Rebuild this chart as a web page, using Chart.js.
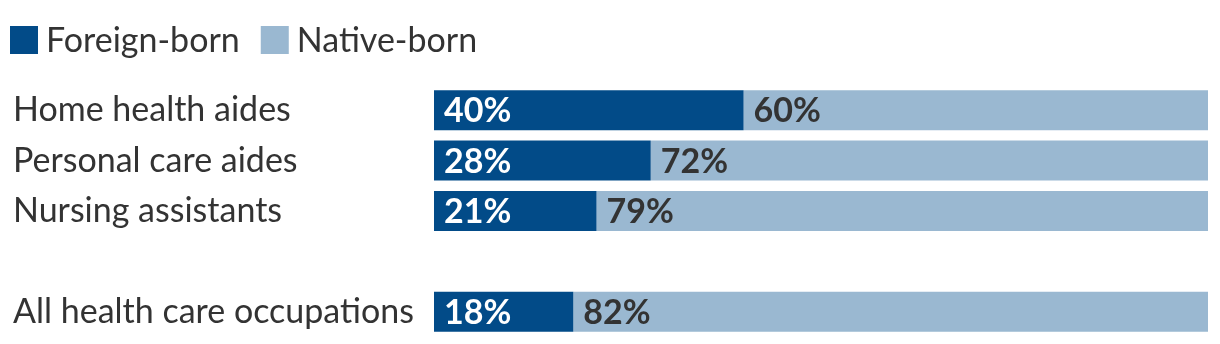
<!DOCTYPE html>
<html>
<head>
<meta charset="utf-8">
<script src="https://cdn.jsdelivr.net/npm/chart.js@4"></script>
<style>
html,body{margin:0;padding:0;background:#fff;}
#wrap{width:1220px;height:344px;position:relative;}
</style>
</head>
<body>
<div id="wrap"><canvas id="c" width="1220" height="344"></canvas></div>
<script>
const categories = ['Home health aides', 'Personal care aides', 'Nursing assistants', '', 'All health care occupations'];
const foreignBorn = [40, 28, 21, null, 18];
const nativeBorn = [60, 72, 79, null, 82];
const seriesNames = ['Foreign-born', 'Native-born'];

const FONT = 'Lato, "Open Sans", sans-serif';
const DARK = '#024b88';
const LIGHT = '#9ab8d1';
const TEXT = '#333333';

const barLabels = {
  id: 'barLabels',
  afterDatasetsDraw(chart) {
    const ctx = chart.ctx;
    ctx.save();
    ctx.font = 'bold 34px ' + FONT;
    ctx.textBaseline = 'middle';
    ctx.textAlign = 'left';
    chart.data.datasets.forEach((ds, di) => {
      const meta = chart.getDatasetMeta(di);
      meta.data.forEach((el, i) => {
        const v = ds.data[i];
        if (v == null) return;
        const start = Math.min(el.base, el.x);
        ctx.fillStyle = di === 0 ? '#ffffff' : TEXT;
        ctx.fillText(v + '%', start + 10, el.y + 1);
      });
    });
    ctx.restore();
  }
};

const topLegend = {
  id: 'topLegend',
  afterDraw(chart) {
    const ctx = chart.ctx;
    ctx.save();
    ctx.font = '34px ' + FONT;
    ctx.textBaseline = 'middle';
    ctx.textAlign = 'left';
    let x = 10;
    const boxTop = 26, box = 28;
    chart.data.datasets.forEach((ds) => {
      ctx.fillStyle = ds.backgroundColor;
      ctx.fillRect(x, boxTop, box, box);
      ctx.fillStyle = TEXT;
      const tx = x + box + 8;
      ctx.fillText(ds.label, tx, boxTop + box / 2 + 1);
      x = tx + ctx.measureText(ds.label).width + 21;
    });
    ctx.restore();
  }
};

new Chart(document.getElementById('c'), {
  type: 'bar',
  data: {
    labels: categories,
    datasets: [
      { label: seriesNames[0], data: foreignBorn, backgroundColor: DARK, borderWidth: 0 },
      { label: seriesNames[1], data: nativeBorn, backgroundColor: LIGHT, borderWidth: 0 }
    ]
  },
  options: {
    indexAxis: 'y',
    responsive: false,
    animation: false,
    devicePixelRatio: 1,
    layout: { padding: { left: 13, right: 12, top: 85, bottom: 7 } },
    datasets: { bar: { barPercentage: 0.794, categoryPercentage: 1 } },
    scales: {
      x: { stacked: true, min: 0, max: 100, display: false },
      y: {
        stacked: true,
        grid: { display: false },
        border: { display: false },
        ticks: {
          color: TEXT,
          font: { family: FONT, size: 34, lineHeight: 0.35 },
          crossAlign: 'far',
          padding: 0
        },
        afterFit(scale) { scale.width = 421; }
      }
    },
    plugins: {
      legend: { display: false },
      tooltip: { enabled: false }
    }
  },
  plugins: [barLabels, topLegend]
});
</script>
</body>
</html>
